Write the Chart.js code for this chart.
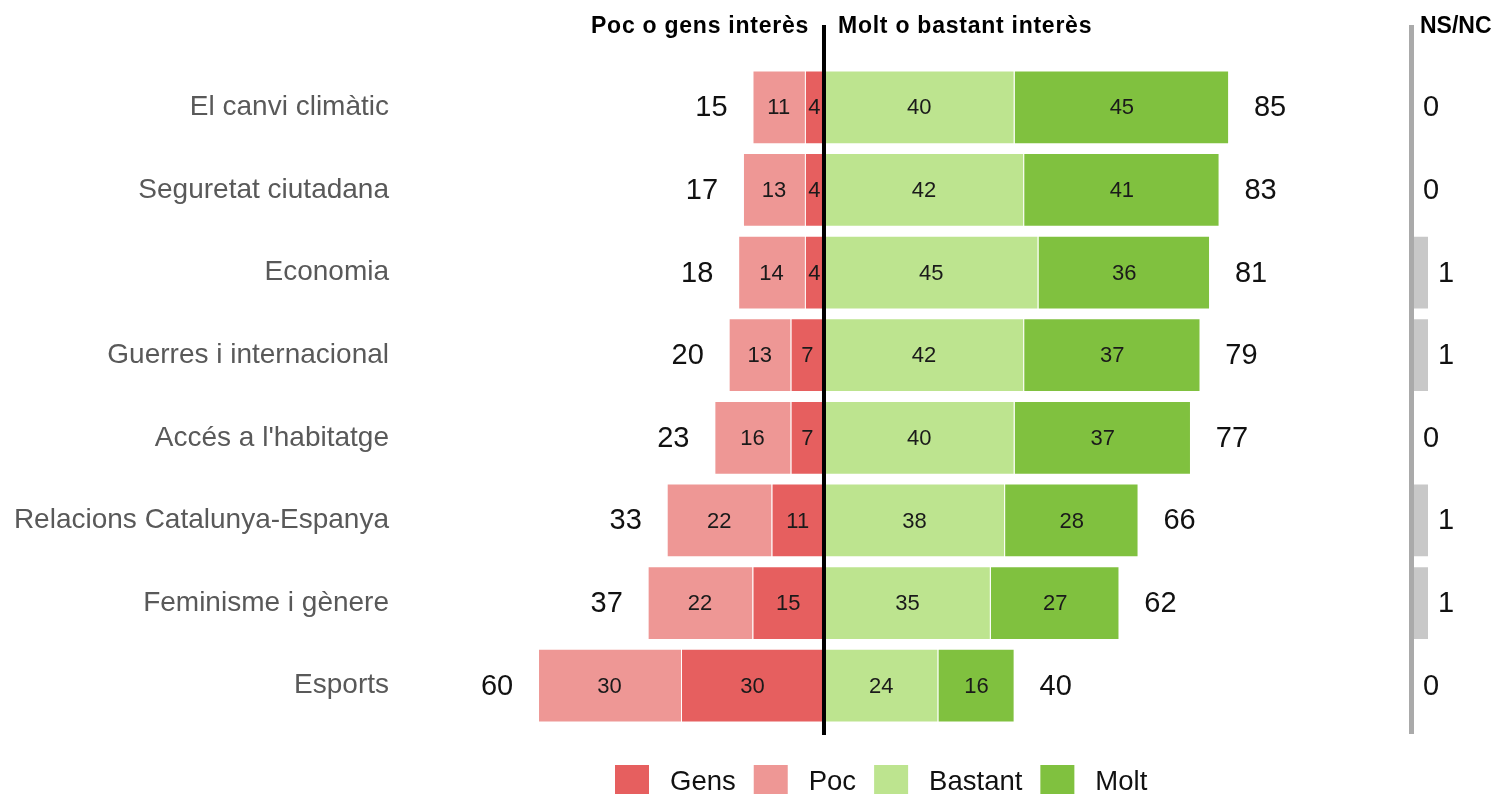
<!DOCTYPE html>
<html>
<head>
<meta charset="utf-8">
<script src="https://cdn.jsdelivr.net/npm/chart.js"></script>
<style>
  html, body { margin:0; padding:0; background:#fff; }
  #chart { display:block; }
</style>
</head>
<body>
<canvas id="chart" width="1499" height="794"></canvas>
<script>
const categories = ['El canvi climàtic','Seguretat ciutadana','Economia','Guerres i internacional',"Accés a l'habitatge",'Relacions Catalunya-Espanya','Feminisme i gènere','Esports'];
const gens    = [4, 4, 4, 7, 7, 11, 15, 30];
const poc     = [11, 13, 14, 13, 16, 22, 22, 30];
const bastant = [40, 42, 45, 42, 40, 38, 35, 24];
const molt    = [45, 41, 36, 37, 37, 28, 27, 16];
const nsnc    = [0, 0, 1, 1, 0, 1, 1, 0];
const lowTotal  = [15, 17, 18, 20, 23, 33, 37, 60];
const highTotal = [85, 83, 81, 79, 77, 66, 62, 40];

const FONT = '"Liberation Sans", Arial, sans-serif';

const overlay = {
  id: 'overlay',
  afterDatasetsDraw(chart){
    const ctx = chart.ctx;
    const x = chart.scales.x, x2 = chart.scales.x2, y = chart.scales.y;
    ctx.save();
    ctx.textAlign = 'center';
    ctx.textBaseline = 'middle';

    // values inside the bars
    ctx.font = '22px ' + FONT;
    ctx.fillStyle = '#1a1a1a';
    for(let d=0; d<4; d++){
      chart.getDatasetMeta(d).data.forEach((bar, i)=>{
        const v = Math.abs(chart.data.datasets[d].data[i]);
        ctx.fillText(v, (bar.x + bar.base)/2, bar.y + 1);
      });
    }

    // totals and NS/NC values
    ctx.font = '29px ' + FONT;
    ctx.fillStyle = '#111';
    categories.forEach((c, i)=>{
      const yy = y.getPixelForValue(i) + 1;
      ctx.fillText(lowTotal[i], x.getPixelForValue(-lowTotal[i]) - 41, yy);
      ctx.fillText(highTotal[i], x.getPixelForValue(highTotal[i]) + 41, yy);
      ctx.fillText(nsnc[i], x2.getPixelForValue(nsnc[i]) + 17, yy);
    });

    // centre line and NS/NC separator
    ctx.fillStyle = '#000';
    ctx.fillRect(x.getPixelForValue(0) - 2, 25, 4, 710);
    ctx.fillStyle = '#aaaaaa';
    ctx.fillRect(x2.getPixelForValue(0) - 5, 25, 5, 709);

    // headers
    ctx.textBaseline = 'alphabetic';
    ctx.fillStyle = '#000';
    ctx.font = 'bold 23px ' + FONT;
    ctx.letterSpacing = '0.75px';
    ctx.textAlign = 'right';
    ctx.fillText('Poc o gens interès', 809, 33);
    ctx.textAlign = 'left';
    ctx.fillText('Molt o bastant interès', 838, 33);
    ctx.letterSpacing = '0px';
    ctx.fillText('NS/NC', 1420, 33);

    // legend
    ctx.font = '27.5px ' + FONT;
    ctx.textBaseline = 'middle';
    let lx = 615;
    chart.data.datasets.slice(0, 4).forEach(ds=>{
      ctx.fillStyle = ds.backgroundColor;
      ctx.fillRect(lx, 765, 34, 34);
      ctx.fillStyle = '#111';
      ctx.fillText(ds.label, lx + 55, 782);
      lx += 55 + ctx.measureText(ds.label).width + 18;
    });
    ctx.restore();
  }
};

new Chart(document.getElementById('chart'), {
  type: 'bar',
  data: {
    labels: categories,
    datasets: [
      {label:'Gens', data: gens.map(v=>-v), backgroundColor:'#E65F5F'},
      {label:'Poc', data: poc.map(v=>-v), backgroundColor:'#EE9795'},
      {label:'Bastant', data: bastant, backgroundColor:'#BDE48F'},
      {label:'Molt', data: molt, backgroundColor:'#80C13F'},
      {label:'NS/NC', data: nsnc, backgroundColor:'#C8C8C8', xAxisID:'x2'}
    ]
  },
  options: {
    indexAxis: 'y',
    responsive: false,
    animation: false,
    barPercentage: 0.892,
    categoryPercentage: 1,
    borderWidth: 1,
    borderColor: 'rgba(255,255,255,0.35)',
    layout: {padding:{top:66, bottom:67, left:0, right:0}},
    plugins: {legend:{display:false}, tooltip:{enabled:false}},
    scales: {
      x: {stacked:true, display:false, min:-88.96, max:141.63},
      x2: {display:false, min:-67.6, max:5.667},
      y: {
        stacked: true,
        grid: {display:false, drawTicks:false},
        border: {display:false},
        ticks: {font:{size:28, family:FONT}, color:'#595959', padding:11},
        afterFit(scale){ scale.width = 400; }
      }
    }
  },
  plugins: [overlay]
});
</script>
</body>
</html>
